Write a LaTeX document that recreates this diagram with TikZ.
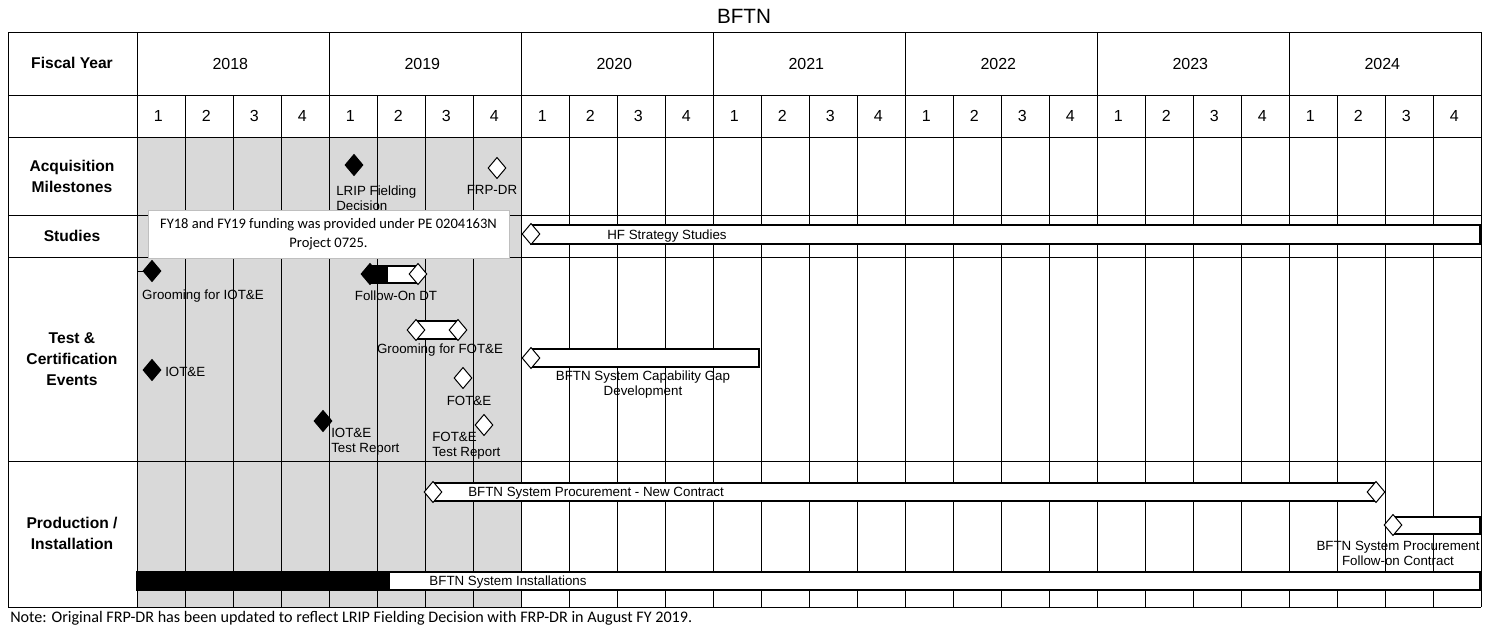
\documentclass[tikz,border=0pt]{standalone}
\usepackage{fontspec}
\setmainfont{Liberation Sans}
\newfontfamily\calib{Carlito}
\usetikzlibrary{shapes.geometric}
\definecolor{pastgray}{HTML}{D9D9D9}
\definecolor{boxgray}{HTML}{BFBFBF}
\begin{document}
\begin{tikzpicture}[x=0.75pt,y=-0.75pt,
  gridline/.style={line width=0.75pt},
  ms/.style={diamond,draw,line width=0.75pt,inner sep=0pt,minimum width=13.5pt,minimum height=16pt},
  msb/.style={ms,fill=black},
  msw/.style={ms,fill=white},
  bar/.style={draw,line width=1.5pt,fill=white},
  lbl/.style={font=\fontsize{10}{11.25}\selectfont,inner sep=0pt,yshift=-1.1pt},
  hdr/.style={font=\fontsize{11.7}{15.75}\selectfont\bfseries,align=center,inner sep=0pt},
  yr/.style={font=\fontsize{12}{14}\selectfont,inner sep=0pt,xshift=-2pt}]
\useasboundingbox (0,0) rectangle (1489,632);
% shading
\fill[pastgray] (137,137) rectangle (521,607);
% grid
\foreach \k in {1,...,27}{\draw[gridline] ({137+48*\k},95) -- ({137+48*\k},607);}
\foreach \xx in {8,137,329,521,713,905,1097,1289,1481}{\draw[gridline] (\xx,32) -- (\xx,607);}
\foreach \yy in {32,95,137,215,257,461,607}{\draw[gridline] (8,\yy) -- (1481,\yy);}
% title
\node[font=\fontsize{15.5}{18}\selectfont,inner sep=0pt] (title) at (744,16) {BFTN};
% headers
\node[hdr] (fy) at (72,63) {Fiscal Year};
\foreach \y [count=\i from 0] in {2018,...,2024}{
  \node[yr] (y\y) at ({233+192*\i},63.5) {\y};
  \foreach \q in {1,2,3,4}{\node[yr] (q\y\q) at ({137+192*\i+48*\q-24},115.5) {\q};}
}
\node[hdr] (racq) at (72,176) {Acquisition\\Milestones};
\node[hdr] (rstu) at (72,236) {Studies};
\node[hdr] (rtest) at (72,359) {Test \&\\Certification\\Events};
\node[hdr] (rprod) at (72,533) {Production /\\Installation};
% acquisition milestones
\node[msb] (lrip) at (354,165) {};
\node[lbl,anchor=west,align=left] (lriplbl) at (336,196.5) {LRIP Fielding\\Decision};
\node[msw] (frp) at (497,168) {};
\node[lbl] (frplbl) at (492,188) {FRP-DR};
% studies
\draw[bar] (531,225) rectangle (1480,244);
\node[msw] (hf) at (531,234) {};
\node[lbl] (hflbl) at (667,235) {HF Strategy Studies};
\node[draw=boxgray,fill=white,line width=0.75pt,minimum width=270.75pt,minimum height=36pt,inner sep=0pt,align=center,font=\calib\fontsize{10.9}{14.25}\selectfont] (fund) at (328.5,234) {FY18 and FY19 funding was provided under PE 0204163N\\Project 0725.};
% test & certification
\draw[line width=0.75pt] (137,271) -- (146,271);
\node[msb] (giot) at (152,271) {};
\node[lbl] (giotlbl) at (203,295) {Grooming for IOT\&E};
\draw[bar] (370,266) rectangle (418,283);
\fill (370,266) rectangle (388,283);
\node[msb] (fod1) at (370,274) {};
\node[msw] (fod2) at (418,274) {};
\node[lbl] (fodlbl) at (396,294) {Follow-On DT};
\draw[bar] (416,321) rectangle (458,339);
\node[msw] (gfot1) at (416,330) {};
\node[msw] (gfot2) at (458,330) {};
\node[lbl] (gfotlbl) at (440,349) {Grooming for FOT\&E};
\node[msb] (iot) at (152,370) {};
\node[lbl,anchor=west] (iotlbl) at (165,370) {IOT\&E};
\node[msw] (fot) at (463,378) {};
\node[lbl] (fotlbl) at (469,399) {FOT\&E};
\node[msb] (iotr) at (323,421) {};
\node[lbl,anchor=west,align=left] (iotrlbl) at (331,440.5) {IOT\&E\\Test Report};
\node[msw] (fotr) at (484,425) {};
\node[lbl,anchor=west,align=left] (fotrlbl) at (432,444.5) {FOT\&E\\Test Report};
\draw[bar] (531,349) rectangle (759,367);
\node[msw] (cap) at (531,358) {};
\node[lbl,align=center] (caplbl) at (643,383.5) {BFTN System Capability Gap\\Development};
% production / installation
\draw[bar] (433,483) rectangle (1376,501);
\node[msw] (pn1) at (433,492) {};
\node[msw] (pn2) at (1376,492) {};
\node[lbl,anchor=west] (pnlbl) at (468,492) {BFTN System Procurement - New Contract};
\draw[bar] (1393,517) rectangle (1480,534);
\node[msw] (pf) at (1393,525) {};
\node[lbl,align=center] (pflbl) at (1398,551.5) {BFTN System Procurement\\Follow-on Contract};
\draw[bar] (137,572) rectangle (1480,590);
\fill (137,572) rectangle (390,590);
\node[lbl] (instlbl) at (508,581) {BFTN System Installations};
% note
\node[anchor=west,inner sep=0pt,font=\calib\fontsize{12.1}{14}\selectfont] (note) at (10,618) {Note: Original FRP-DR has been updated to reflect LRIP Fielding Decision with FRP-DR in August FY 2019.};
\end{tikzpicture}
\end{document}
